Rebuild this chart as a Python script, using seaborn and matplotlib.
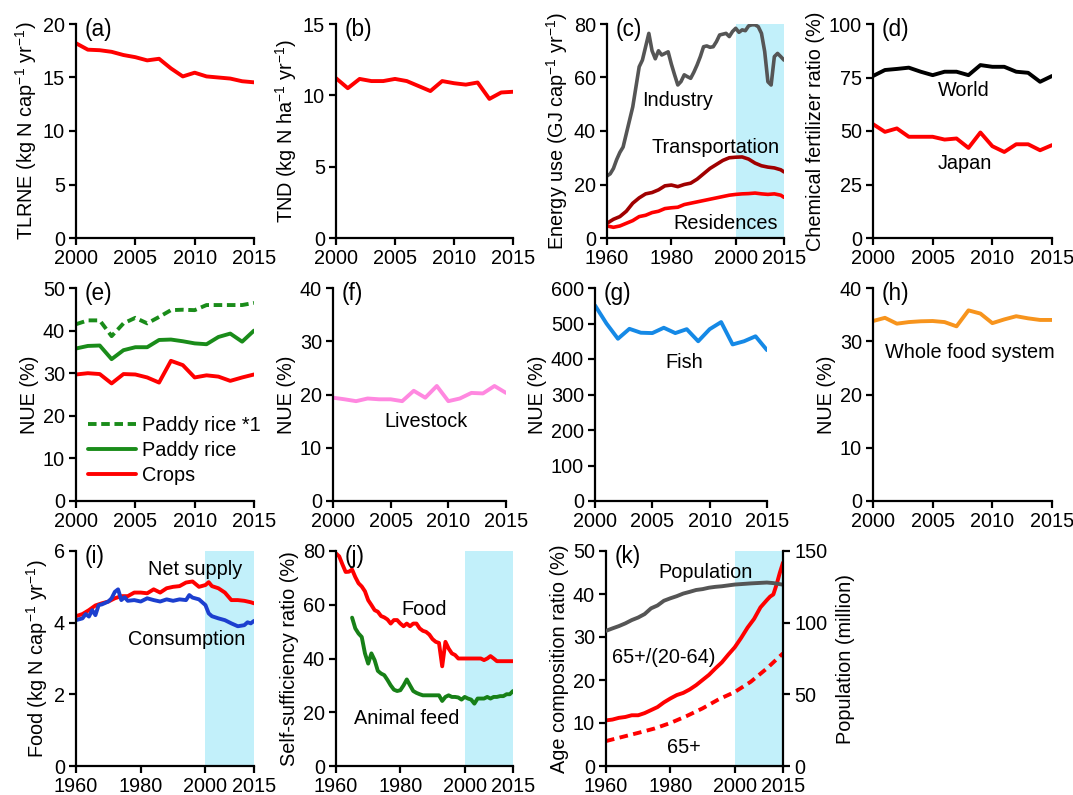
import pandas as pd
import matplotlib
matplotlib.use("Agg")
import matplotlib.pyplot as plt
import seaborn as sns

sns.set_style("ticks", {"axes.edgecolor": "black", "text.color": "black",
                        "xtick.color": "black", "ytick.color": "black",
                        "axes.labelcolor": "black"})
plt.rcParams["font.family"] = ["Liberation Sans", "DejaVu Sans"]
plt.rcParams["mathtext.fontset"] = "custom"
plt.rcParams["mathtext.rm"] = "Liberation Sans"
plt.rcParams["mathtext.it"] = "Liberation Sans:italic"

FS = 14.3
RED = "#ff0000"
SHADE = "#c2f0fa"

# ---- data ----
yrs = list(range(2000, 2016))
yrs_long = list(range(1960, 2016))

tlrne = [18.2, 17.6, 17.55, 17.4, 17.1, 16.9, 16.6, 16.75, 15.85, 15.1, 15.45, 15.1, 15.0, 14.9, 14.65, 14.55]
tnd = [11.2, 10.5, 11.15, 11.0, 11.0, 11.15, 11.0, 10.65, 10.3, 11.0, 10.85, 10.75, 10.9, 9.75, 10.2, 10.25]

industry = [23.2, 24, 26, 29.3, 32, 34, 39, 44, 49, 56.5,
            64, 66.5, 71.5, 76.5, 70, 67, 70, 68.4, 69, 69.6,
            65, 61, 57.2, 58.5, 61, 60.3, 59.7, 62, 64.7, 67.8,
            71.5, 71.8, 71.3, 71.5, 73.4, 75.9, 76.2, 76.5, 75.3, 77.2,
            78.4, 76.9, 77.8, 77.5, 79.3, 79.7, 79.7, 79, 76.5, 69.7,
            58.4, 57.2, 67.8, 69, 67.8, 66.5]
yrs_2 = [1960, 1962, 1964, 1966, 1968, 1970, 1972, 1974, 1976, 1978, 1980, 1982, 1984, 1986,
         1988, 1990, 1992, 1994, 1996, 1998, 2000, 2002, 2004, 2006, 2008, 2010, 2012, 2014, 2015]
transport = [5.5, 7, 8, 10, 13, 15, 16.5, 17, 18, 19.5, 19.8, 19.2, 20, 20.5,
             22, 24, 26, 27.5, 29, 30, 30.2, 30.3, 29.5, 28, 27, 26.5, 26.2, 25.5, 24.7]
residence = [4.5, 4, 4.5, 5.5, 6.5, 8, 8.5, 9.5, 10, 11, 11.3, 11.5, 12.5, 13,
             13.5, 14, 14.5, 15, 15.5, 16, 16.3, 16.5, 16.6, 16.8, 16.5, 16.3, 16.5, 16, 15.2]

world = [75.7, 78.5, 79, 79.6, 77.7, 76.1, 77.7, 77.7, 76.1, 80.8, 80, 80, 77.7, 77.2, 73, 75.7]
japan = [53.2, 49.6, 51.2, 47.3, 47.3, 47.3, 46, 46.5, 42.1, 49.3, 42.9, 40.2, 43.8, 43.8, 41, 43.4]

paddy1 = [41.5, 42.4, 42.4, 38.7, 41.7, 43, 41.7, 43.2, 44.8, 44.9, 44.8, 46, 46, 46, 46, 46.5]
paddy = [35.8, 36.4, 36.5, 33.3, 35.4, 36.1, 36.1, 37.8, 37.9, 37.5, 37, 36.8, 38.5, 39.3, 37.4, 40]
crops = [29.7, 30, 29.8, 27.6, 29.8, 29.7, 29, 27.8, 32.9, 31.9, 29, 29.5, 29.2, 28.2, 29, 29.7]

livestock = [19.4, 19.1, 18.75, 19.25, 19.1, 19.1, 18.75, 20.7, 19.4, 21.6, 18.75, 19.25, 20.3, 20.2, 21.6, 20.3]
fish = [551, 500, 457, 485, 474, 473, 488, 473, 484, 450, 484, 504, 441, 450, 464, 425]
whole = [33.8, 34.4, 33.3, 33.6, 33.75, 33.8, 33.6, 32.8, 35.8, 35.2, 33.4, 34.1, 34.7, 34.3, 34, 34]

supply_yrs = [1960, 1962, 1964, 1966, 1968, 1970, 1972, 1974, 1976, 1978, 1980, 1982, 1984, 1986,
              1988, 1990, 1992, 1994, 1996, 1998, 2000, 2001, 2002, 2004, 2006, 2008, 2010, 2012, 2014, 2015]
net_supply = [4.18, 4.24, 4.35, 4.48, 4.54, 4.59, 4.68, 4.74, 4.74, 4.84, 4.84, 4.82, 4.93, 4.84,
              4.96, 5.0, 5.02, 5.12, 5.15, 5.0, 5.05, 5.13, 5.02, 4.96, 4.84, 4.63, 4.63, 4.61, 4.57, 4.54]
cons_yrs = [1960, 1962, 1963, 1964, 1965, 1966, 1967, 1968, 1970, 1971, 1972, 1973, 1974, 1975, 1976,
            1978, 1980, 1982, 1984, 1986, 1988, 1990, 1992, 1994, 1995, 1996, 1998, 2000, 2001, 2002,
            2004, 2006, 2008, 2010, 2012, 2013, 2014, 2015]
consumption = [4.07, 4.12, 4.24, 4.17, 4.35, 4.21, 4.49, 4.51, 4.59, 4.68, 4.86, 4.93, 4.63, 4.71, 4.61,
               4.63, 4.59, 4.68, 4.63, 4.59, 4.65, 4.61, 4.65, 4.63, 4.77, 4.7, 4.65, 4.49, 4.26, 4.18,
               4.12, 4.07, 3.98, 3.9, 3.93, 4.01, 3.98, 4.05]

food_ss = [79.1, 78, 75, 72.2, 72.3, 73.1, 70.3, 68, 66.8, 65,
           61.7, 59.9, 58, 57.4, 55.8, 55.3, 54.5, 53, 54.3, 54.3,
           53, 52, 53, 52, 53, 53, 51.2, 50.3, 49.9, 48.9,
           47.2, 46.2, 45.8, 37.1, 46.2, 43.7, 41.9, 41.3, 40, 40,
           40, 40, 40, 40, 40, 40, 39.4, 40, 40.9, 40,
           39, 39, 39, 39, 39, 39]
feed_yrs = list(range(1965, 2016))
feed_ss = [55.2, 51.2, 49.3, 48, 41.9, 38.1, 41.9, 39.4, 35.4, 34.4,
           33.8, 32, 30, 28.4, 27.9, 28.2, 30, 32.2, 30, 27.9,
           27.2, 26.7, 26.3, 26.3, 26.3, 26.3, 26.3, 26.3, 24.2, 25.7,
           26.3, 25.7, 25.7, 25.5, 24.7, 25.7, 25.1, 24.7, 23.2, 25.1,
           25.1, 25.1, 25.7, 25.1, 25.7, 25.7, 26, 26, 26.7, 26.7, 27.9]

ratio_yrs = [1960, 1962, 1964, 1966, 1968, 1970, 1972, 1974, 1976, 1978, 1980, 1982, 1984, 1986, 1988,
             1990, 1992, 1994, 1996, 1998, 2000, 2002, 2004, 2006, 2008, 2010, 2011, 2012, 2013, 2014, 2015]
ratio_old_work = [10.6, 10.8, 11.2, 11.4, 11.8, 11.8, 12.3, 13, 13.7, 14.8, 15.7, 16.5, 17, 17.8, 18.8,
                  20, 21.2, 22.7, 24.1, 25.9, 27.6, 29.8, 32.2, 34.2, 36.9, 38.6, 39.4, 39.9, 42.2, 44.9, 47.3]
old_yrs = [1960, 1965, 1970, 1975, 1980, 1985, 1990, 1995, 2000, 2005, 2010, 2015]
old_share = [5.8, 6.75, 7.7, 8.7, 10, 11.6, 13.4, 15.5, 17.2, 19.6, 22.7, 26.2]
pop_yrs = [1960, 1962, 1964, 1966, 1968, 1970, 1972, 1974, 1976, 1978, 1980, 1982, 1984, 1986, 1988,
           1990, 1992, 1994, 1996, 1998, 2000, 2005, 2010, 2012, 2015]
population = [94.3, 96, 97.6, 99.5, 101.8, 103.6, 106, 110, 112, 115.3, 117, 118.5, 120.3, 121.5, 122.8,
              123.4, 124.4, 125, 125.4, 126, 126.6, 127.4, 128, 127.6, 126.5]

# ---- figure ----
fig = plt.figure(figsize=(10.73, 7.95), dpi=100)
W, H = 1073, 795


def make_ax(x0, x1, top, bottom):
    return fig.add_axes([x0 / W, (H - bottom) / H, (x1 - x0) / W, (bottom - top) / H])


def style(ax, letter, xlim, xticks, ylim, yticks, ylabel):
    ax.set_xlim(*xlim)
    ax.set_ylim(*ylim)
    ax.set_xticks(xticks)
    ax.set_yticks(yticks)
    ax.set_xlabel("")
    ax.set_ylabel(ylabel, fontsize=FS, labelpad=3)
    for s in ["top", "right"]:
        ax.spines[s].set_visible(False)
    for s in ["left", "bottom"]:
        ax.spines[s].set_linewidth(1.6)
    ax.tick_params(direction="out", length=5, width=1.6, labelsize=FS, pad=3)
    ax.text(0.05, 1.03, letter, transform=ax.transAxes, fontsize=FS + 2, va="top", ha="left")


def line(ax, x, y, color, lw=2.8, **kw):
    df = pd.DataFrame({"year": x, "value": y})
    sns.lineplot(data=df, x="year", y="value", color=color, lw=lw, ax=ax, **kw)


short_ticks = [2000, 2005, 2010, 2015]
long_ticks = [1960, 1980, 2000, 2015]

# (a)
ax = make_ax(76, 254, 24, 238)
line(ax, yrs, tlrne, RED)
style(ax, "(a)", (2000, 2015), short_ticks, (0, 20), [0, 5, 10, 15, 20],
      "TLRNE (kg N cap$^{-1}$ yr$^{-1}$)")

# (b)
ax = make_ax(336, 513, 24, 238)
line(ax, yrs, tnd, RED)
style(ax, "(b)", (2000, 2015), short_ticks, (0, 15), [0, 5, 10, 15],
      "TND (kg N ha$^{-1}$ yr$^{-1}$)")

# (c)
ax = make_ax(607, 784, 24, 238)
ax.axvspan(2000, 2015, color=SHADE, lw=0, zorder=0)
line(ax, yrs_long, industry, "#555555", lw=2.6)
line(ax, yrs_2, transport, "#a00000", lw=2.6)
line(ax, yrs_2, residence, RED, lw=2.6)
style(ax, "(c)", (1960, 2015), long_ticks, (0, 80), [0, 20, 40, 60, 80],
      "Energy use (GJ cap$^{-1}$ yr$^{-1}$)")
ax.text(1982, 51.5, "Industry", fontsize=FS, ha="center", va="center")
ax.text(1993.7, 34, "Transportation", fontsize=FS, ha="center", va="center")
ax.text(1996.8, 5.4, "Residences", fontsize=FS, ha="center", va="center")

# (d)
ax = make_ax(873, 1052, 24, 238)
line(ax, yrs, world, "black")
line(ax, yrs, japan, RED)
style(ax, "(d)", (2000, 2015), short_ticks, (0, 100), [0, 25, 50, 75, 100],
      "Chemical fertilizer ratio (%)")
ax.text(2007.6, 69, "World", fontsize=FS, ha="center", va="center")
ax.text(2007.7, 34.8, "Japan", fontsize=FS, ha="center", va="center")

# (e)
ax = make_ax(76, 254, 288, 501)
line(ax, yrs, paddy1, "#1a8c1a", linestyle=(0, (2.2, 1.2)), label="Paddy rice *1")
line(ax, yrs, paddy, "#1a8c1a", label="Paddy rice")
line(ax, yrs, crops, RED, label="Crops")
style(ax, "(e)", (2000, 2015), short_ticks, (0, 50), [0, 10, 20, 30, 40, 50], "NUE (%)")
ax.legend(loc="lower left", bbox_to_anchor=(0.0, 0.02), frameon=False, fontsize=FS,
          handlelength=2.4, handletextpad=0.3, labelspacing=0.3, borderaxespad=0.2)

# (f)
ax = make_ax(333, 506, 288, 501)
line(ax, yrs, livestock, "#ff88e0")
style(ax, "(f)", (2000, 2015), short_ticks, (0, 40), [0, 10, 20, 30, 40], "NUE (%)")
ax.text(2008.1, 14.9, "Livestock", fontsize=FS, ha="center", va="center")

# (g)
ax = make_ax(595, 767, 288, 501)
line(ax, yrs, fish, "#1589e6")
style(ax, "(g)", (2000, 2015), short_ticks, (0, 600), [0, 100, 200, 300, 400, 500, 600], "NUE (%)")
ax.text(2007.8, 389, "Fish", fontsize=FS, ha="center", va="center")

# (h)
ax = make_ax(873, 1052, 288, 501)
line(ax, yrs, whole, "#f7941d")
style(ax, "(h)", (2000, 2015), short_ticks, (0, 40), [0, 10, 20, 30, 40], "NUE (%)")
ax.text(2008.1, 27.9, "Whole food system", fontsize=FS, ha="center", va="center")

# (i)
ax = make_ax(76, 254, 551, 766)
ax.axvspan(2000, 2015, color=SHADE, lw=0, zorder=0)
line(ax, supply_yrs, net_supply, RED)
line(ax, cons_yrs, consumption, "#1c3fcf")
style(ax, "(i)", (1960, 2015), long_ticks, (0, 6), [0, 2, 4, 6],
      "Food (kg N cap$^{-1}$ yr$^{-1}$)")
ax.text(1996.8, 5.47, "Net supply", fontsize=FS, ha="center", va="center")
ax.text(1994.2, 3.54, "Consumption", fontsize=FS, ha="center", va="center")

# (j)
ax = make_ax(336, 513, 551, 766)
ax.axvspan(2000, 2015, color=SHADE, lw=0, zorder=0)
line(ax, yrs_long, food_ss, RED)
line(ax, feed_yrs, feed_ss, "#178017")
style(ax, "(j)", (1960, 2015), long_ticks, (0, 80), [0, 20, 40, 60, 80],
      "Self-sufficiency ratio (%)")
ax.text(1987.3, 58.3, "Food", fontsize=FS, ha="center", va="center")
ax.text(1982, 17.6, "Animal feed", fontsize=FS, ha="center", va="center")

# (k)
ax = make_ax(606, 783, 551, 766)
ax.axvspan(2000, 2015, color=SHADE, lw=0, zorder=0)
line(ax, ratio_yrs, ratio_old_work, RED)
line(ax, old_yrs, old_share, RED, linestyle=(0, (2.2, 1.4)))
style(ax, "(k)", (1960, 2015), long_ticks, (0, 50), [0, 10, 20, 30, 40, 50],
      "Age composition ratio (%)")
ax.text(1990.8, 45.1, "Population", fontsize=FS, ha="center", va="center")
ax.text(1977.9, 25.2, "65+/(20-64)", fontsize=FS, ha="center", va="center")
ax.text(1984.1, 4.4, "65+", fontsize=FS, ha="center", va="center")
ax2 = ax.twinx()
line(ax2, pop_yrs, population, "#555555")
ax2.set_ylim(0, 150)
ax2.set_xlim(1960, 2015)
ax2.set_yticks([0, 50, 100, 150])
ax2.set_ylabel("Population (million)", fontsize=FS, labelpad=6)
ax2.spines["top"].set_visible(False)
ax2.spines["left"].set_visible(False)
ax2.spines["right"].set_linewidth(1.6)
ax2.tick_params(direction="out", length=5, width=1.6, labelsize=FS, pad=3)

fig.savefig("out.png", dpi=100)
